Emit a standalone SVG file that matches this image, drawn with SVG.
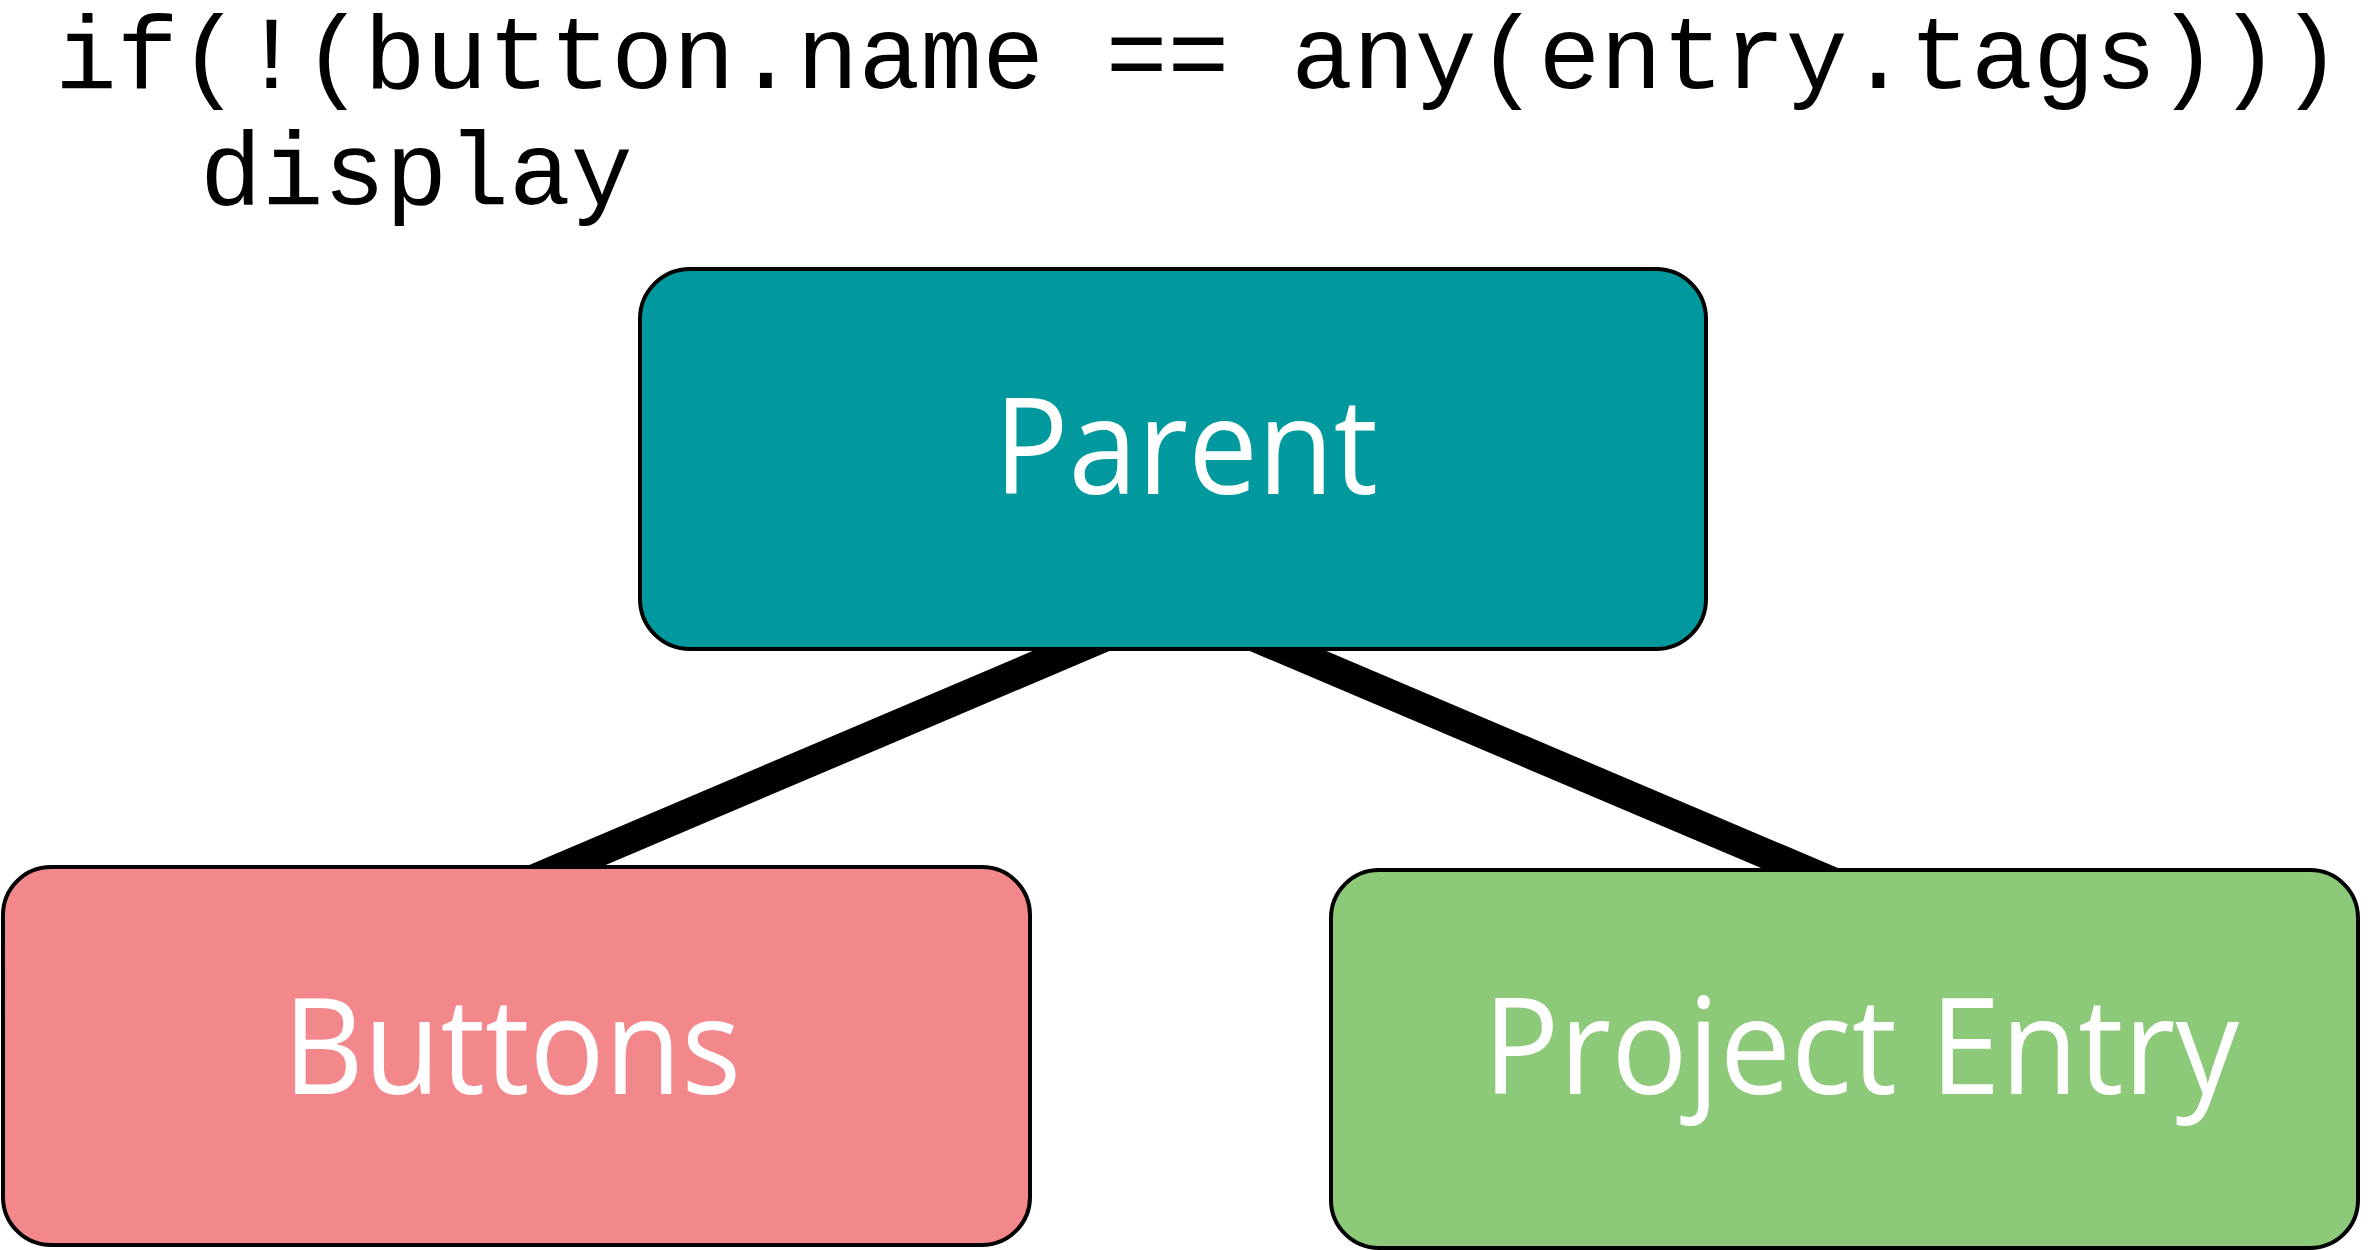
<svg xmlns="http://www.w3.org/2000/svg" width="2368" height="1250" viewBox="0 0 2368 1250">
<style>
.code{font-family:"Liberation Mono","Courier New",monospace;font-size:103px;fill:#000}
.box{stroke:#000;stroke-width:4}
.lbl{font-family:"Open Sans","Noto Sans",sans-serif;font-size:134px;fill:#fff}
.conn{stroke:#000;stroke-width:30;fill:none}
</style>
<rect width="2368" height="1250" fill="#fff"/>
<text class="code" x="55" y="88">if(!(button.name == any(entry.tags)))</text>
<text class="code" x="200" y="204">display</text>
<g id="connectors">
<line class="conn" x1="1191" y1="600" x2="438" y2="920"/>
<line class="conn" x1="1168" y1="600" x2="1922" y2="920"/>
</g>
<g id="parent">
<rect class="box" x="640" y="269" width="1066" height="380" rx="50" ry="50" fill="#01999D"/>
<text class="lbl" x="994" y="494" textLength="384" lengthAdjust="spacingAndGlyphs">Parent</text>
</g>
<g id="buttons">
<rect class="box" x="3" y="867" width="1027" height="378" rx="48" ry="48" fill="#F3888C"/>
<text class="lbl" x="283" y="1094" textLength="458" lengthAdjust="spacingAndGlyphs">Buttons</text>
</g>
<g id="project-entry">
<rect class="box" x="1331" y="870" width="1027" height="378" rx="48" ry="48" fill="#8CC979"/>
<text class="lbl" x="1483" y="1094" textLength="756" lengthAdjust="spacingAndGlyphs">Project Entry</text>
</g>
</svg>
